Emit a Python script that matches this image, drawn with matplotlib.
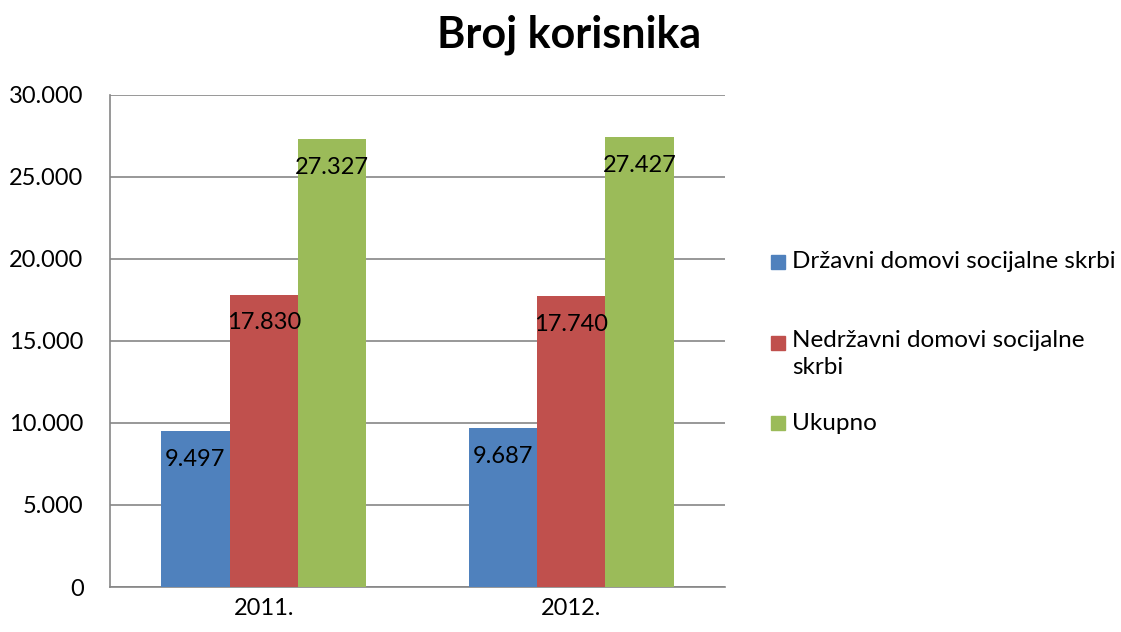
import numpy as np
import matplotlib
matplotlib.use("Agg")
import matplotlib.pyplot as plt
from matplotlib.patches import Rectangle

# data
categories = ["2011.", "2012."]
series_names = ["Državni domovi socijalne skrbi",
                "Nedržavni domovi socijalne\nskrbi",
                "Ukupno"]
drzavni = [9497, 9687]
nedrzavni = [17830, 17740]
ukupno = [27327, 27427]
colors = ["#4F81BD", "#C0504D", "#9BBB59"]
y_ticks = [0, 5000, 10000, 15000, 20000, 25000, 30000]


def fmt(v):
    return f"{v:,.0f}".replace(",", ".")


plt.rcParams["font.family"] = ["Lato", "DejaVu Sans"]

fig = plt.figure(figsize=(11.21, 6.32), dpi=100)
ax = fig.add_axes([0.0981, 0.0712, 0.5486, 0.7785])

x = np.arange(len(categories))
width = 2 / 9
values = [drzavni, nedrzavni, ukupno]
for i, (vals, col) in enumerate(zip(values, colors)):
    pos = x + (i - 1) * width
    bars = ax.bar(pos, vals, width, color=col, zorder=3)
    for b, v in zip(bars, vals):
        ax.annotate(fmt(v), (b.get_x() + b.get_width() / 2, v),
                    xytext=(0, -25), textcoords="offset points",
                    ha="center", va="baseline", fontsize=17, zorder=4)

ax.set_xlim(-0.5, len(categories) - 0.5)
ax.set_ylim(0, 30000)
ax.set_yticks(y_ticks)
ax.set_yticklabels([fmt(t) for t in y_ticks], fontsize=17)
ax.set_xticks(x)
ax.set_xticklabels(categories, fontsize=17)
ax.tick_params(axis="y", length=0, pad=19)
ax.tick_params(axis="x", length=0, pad=8)
ax.grid(axis="y", color="#868686", lw=1.2, zorder=0)
for s in ["top", "right"]:
    ax.spines[s].set_visible(False)
for s in ["left", "bottom"]:
    ax.spines[s].set_color("#868686")
    ax.spines[s].set_linewidth(1.2)

fig.text(0.508, 0.945, "Broj korisnika", ha="center", va="center",
         fontsize=31, fontweight="bold")

# legend drawn by hand to keep the marker on the first text line
leg_y = [262, 343, 423]
for name, col, yy in zip(series_names, colors, leg_y):
    fig.patches.append(Rectangle((771 / 1121, 1 - (yy + 7) / 632), 14 / 1121, 14 / 632,
                                 transform=fig.transFigure, color=col))
    if "\n" in name:
        fig.text(792 / 1121, 1 - (yy - 13) / 632, name, ha="left", va="top",
                 fontsize=17.5, linespacing=1.35)
    else:
        fig.text(792 / 1121, 1 - yy / 632, name, ha="left", va="center",
                 fontsize=17.5)

fig.savefig("out.png", dpi=100)
